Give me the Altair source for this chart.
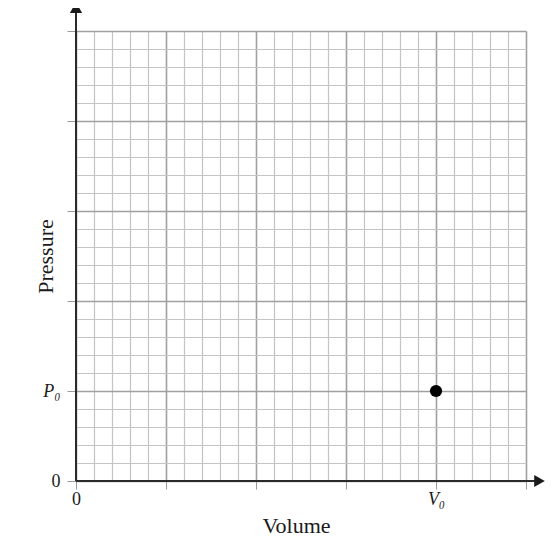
import altair as alt
import pandas as pd

# Grid positions (in minor-grid units) and the labelled ticks
grid_values = [0, 1, 2, 3, 4, 5, 6, 7, 8, 9, 10, 11, 12, 13, 14, 15,
               16, 17, 18, 19, 20, 21, 22, 23, 24, 25]
axis_max = 25

# The single state point (V0, P0)
volume = [20]
pressure = [5]
point_names = ["state"]

# Axis arrows extend a little past the grid
arrow_x_end = [25.75]
arrow_y_end = [26.3]

FONT = "Liberation Serif"
MAJOR = "datum.value % 5 === 0"

xs = alt.Scale(domain=[0, axis_max], nice=False, zero=False)
ys = alt.Scale(domain=[0, axis_max], nice=False, zero=False)

pt_df = pd.DataFrame({"V": volume, "P": pressure, "name": point_names})

x_axis = alt.Axis(
    values=grid_values,
    grid=True,
    gridColor={"condition": {"test": MAJOR, "value": "#a0a0a0"}, "value": "#c4c4c4"},
    gridWidth={"condition": {"test": MAJOR, "value": 1.6}, "value": 1.2},
    domain=False,
    ticks=True,
    tickSize=8,
    tickColor={"condition": {"test": MAJOR, "value": "#9a9a9a"}, "value": "transparent"},
    labelExpr="datum.value === 0 ? '0' : (datum.value === 20 ? 'V\u2080' : '')",
    labelFont=FONT,
    labelFontSize=18,
    labelColor="#1a1a1a",
    labelFontStyle={"condition": {"test": "datum.value === 20", "value": "italic"}, "value": "normal"},
    labelPadding=1,
    labelOverlap=False,
    labelFlush=False,
    title="Volume",
    titleFont=FONT,
    titleFontSize=22,
    titleFontWeight="normal",
    titleColor="#1a1a1a",
    titleX=220,
    titleY=51,
    titleAlign="center",
    titleBaseline="alphabetic",
)

y_axis = alt.Axis(
    values=grid_values,
    grid=True,
    gridColor={"condition": {"test": MAJOR, "value": "#a0a0a0"}, "value": "#c4c4c4"},
    gridWidth={"condition": {"test": MAJOR, "value": 1.6}, "value": 1.2},
    domain=False,
    ticks=True,
    tickSize=9,
    tickColor={"condition": {"test": MAJOR, "value": "#9a9a9a"}, "value": "transparent"},
    labelExpr="datum.value === 0 ? '0' : (datum.value === 5 ? 'P\u2080' : '')",
    labelFont=FONT,
    labelFontSize=18,
    labelColor="#1a1a1a",
    labelFontStyle={"condition": {"test": "datum.value === 5", "value": "italic"}, "value": "normal"},
    labelPadding=7,
    labelOverlap=False,
    labelFlush=False,
    title="Pressure",
    titleFont=FONT,
    titleFontSize=22,
    titleFontWeight="normal",
    titleColor="#1a1a1a",
    titleAngle=270,
    titleX=-24,
    titleY=225,
    titleAlign="center",
    titleBaseline="alphabetic",
)

X = lambda f: alt.X(f, scale=xs, axis=x_axis)
Y = lambda f: alt.Y(f, scale=ys, axis=y_axis)

point = alt.Chart(pt_df).mark_circle(size=150, color="#000000", opacity=1).encode(
    x=X("V:Q"),
    y=Y("P:Q"),
)

# Dark axis lines with arrows
hx = pd.DataFrame({"V": [0], "V2": arrow_x_end, "P": [0]})
vy = pd.DataFrame({"V": [0], "P": [0], "P2": arrow_y_end})

h_line = alt.Chart(hx).mark_rule(color="#2a2a2a", strokeWidth=2).encode(
    x=X("V:Q"), x2="V2:Q", y=Y("P:Q"),
)
v_line = alt.Chart(vy).mark_rule(color="#2a2a2a", strokeWidth=2).encode(
    x=X("V:Q"), y=Y("P:Q"), y2="P2:Q",
)

hx_head = pd.DataFrame({"V": arrow_x_end, "P": [0]})
vy_head = pd.DataFrame({"V": [0], "P": arrow_y_end})

h_head = alt.Chart(hx_head).mark_point(shape="triangle-right", filled=True, size=150,
                                       color="#1a1a1a", opacity=1).encode(
    x=X("V:Q"), y=Y("P:Q"),
)
v_head = alt.Chart(vy_head).mark_point(shape="triangle-up", filled=True, size=150,
                                       color="#1a1a1a", opacity=1).encode(
    x=X("V:Q"), y=Y("P:Q"),
)

chart = alt.layer(point, h_line, v_line, h_head, v_head).properties(
    width=450,
    height=450,
    autosize=alt.AutoSizeParams(type="none"),
    padding={"left": 68, "top": 23, "right": 26, "bottom": 58},
    background="white",
).configure_view(stroke=None)

chart.save("out.html", embed_options={"renderer": "svg", "actions": False})
